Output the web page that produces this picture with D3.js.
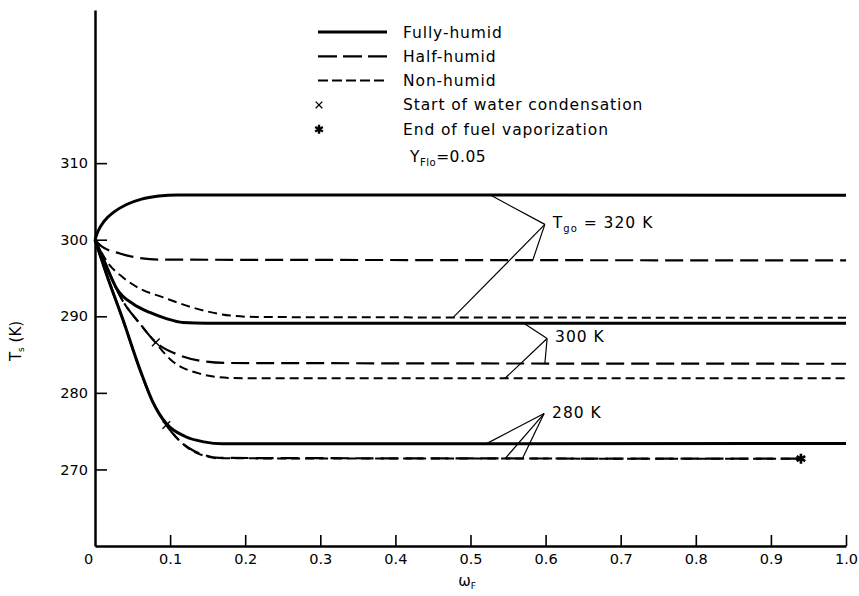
<!DOCTYPE html>
<html>
<head>
<meta charset="utf-8">
<script src="https://cdn.jsdelivr.net/npm/d3@7"></script>
<style>
	body { margin: 0; background: #fff; }
	svg text { font-family: "DejaVu Sans", sans-serif; fill: #000; }
</style>
</head>
<body>
<svg id="chart" width="859" height="596"></svg>
<script>
// axis ticks
var xTicks = [0, 0.1, 0.2, 0.3, 0.4, 0.5, 0.6, 0.7, 0.8, 0.9, 1.0];
var yTicks = [270, 280, 290, 300, 310];

// curves, [omega_F, T_s (K)]
var fullyHumid320 = [[0, 300], [0.004, 301.1], [0.012, 302.4], [0.025, 303.6], [0.042, 304.6], [0.062, 305.3], [0.085, 305.7], [0.11, 305.85], [1, 305.8]];
var halfHumid320 = [[0, 300], [0.008, 299.2], [0.033, 298.2], [0.06, 297.6], [0.085, 297.4], [1, 297.3]];
var nonHumid320 = [[0, 300], [0.017, 297.0], [0.037, 295.1], [0.06, 293.6], [0.09, 292.5], [0.135, 291.0], [0.18, 290.1], [0.22, 289.9], [1, 289.8]];

var fullyHumid300 = [[0, 300], [0.012, 297.3], [0.029, 293.6], [0.051, 291.6], [0.073, 290.5], [0.095, 289.7], [0.117, 289.2], [0.15, 289.1], [1, 289.1]];
var halfHumid300 = [[0, 300], [0.015, 296.5], [0.037, 292.0], [0.06, 289.0], [0.081, 286.6], [0.11, 285.0], [0.14, 284.2], [0.18, 283.9], [1, 283.8]];
var nonHumid300 = [[0, 300], [0.015, 296.5], [0.037, 292.0], [0.06, 289.0], [0.081, 286.5], [0.1, 284.4], [0.14, 282.5], [0.18, 281.95], [0.22, 281.9], [1, 281.9]];

var fullyHumid280 = [[0, 300], [0.016, 295.3], [0.037, 289.6], [0.06, 283.0], [0.077, 278.8], [0.095, 276.0], [0.12, 274.3], [0.145, 273.6], [0.17, 273.35], [1, 273.4]];
var halfHumid280 = [[0, 300], [0.016, 295.3], [0.037, 289.6], [0.06, 283.0], [0.077, 278.8], [0.095, 275.8], [0.11, 274.0], [0.125, 272.8], [0.145, 271.9], [0.165, 271.5], [0.94, 271.4]];
var nonHumid280 = [[0, 300], [0.016, 295.3], [0.037, 289.6], [0.06, 283.0], [0.077, 278.8], [0.095, 275.8], [0.11, 274.0], [0.125, 272.7], [0.145, 271.8], [0.165, 271.45], [0.94, 271.4]];

var condensationPoints = [[0.081, 286.6], [0.095, 275.8]];
var vaporizationEnd = [[0.94, 271.4]];

// leader labels: anchor point and the curves it points to
var gasLabels = [
	{ anchor: [0.599, 302.0], targets: [[0.527, 305.8], [0.583, 297.35], [0.477, 289.85]] },
	{ anchor: [0.602, 287.1], targets: [[0.571, 289.1], [0.599, 283.8], [0.546, 281.9]] },
	{ anchor: [0.598, 277.3], targets: [[0.522, 273.4], [0.546, 271.4], [0.569, 271.4]] }
];
var gasLabelText = ['320 K', '300 K', '280 K'];

var legendNames = ['Fully-humid', 'Half-humid', 'Non-humid', 'Start of water condensation', 'End of fuel vaporization'];

var styles = {
	fully: { width: 3, dash: null },
	half: { width: 2.2, dash: '18,7' },
	non: { width: 2, dash: '9,5' }
};

var svg = d3.select('#chart');

var x = d3.scaleLinear().domain([0, 1]).range([95, 846]),
	y = d3.scaleLinear().domain([260, 330]).range([546, 10]);

// axes
var xAxis = svg.append('g')
	.attr('transform', 'translate(0,' + y(260) + ')')
	.call(d3.axisBottom(x).tickValues(xTicks).tickSize(-11).tickSizeOuter(0).tickPadding(8)
		.tickFormat(function(d) { return d === 0 ? '0' : d3.format('.1f')(d); }));

var yAxis = svg.append('g')
	.attr('transform', 'translate(' + x(0) + ',0)')
	.call(d3.axisLeft(y).tickValues(yTicks).tickSize(-12).tickSizeOuter(0).tickPadding(7)
		.tickFormat(d3.format('d')));

[xAxis, yAxis].forEach(function(g) {
	g.attr('font-size', 14.5).attr('font-family', '"DejaVu Sans", sans-serif');
	g.select('.domain').attr('stroke', '#000').attr('stroke-width', 2.5);
	g.selectAll('.tick line').attr('stroke', '#000').attr('stroke-width', 1.6);
});
xAxis.selectAll('.tick').filter(function(d) { return d === 0; }).select('line').remove();
xAxis.selectAll('.tick').filter(function(d) { return d === 0; }).select('text').attr('x', -7);

// curves
var line = d3.line()
	.x(function(d) { return x(d[0]); })
	.y(function(d) { return y(d[1]); })
	.curve(d3.curveMonotoneX);

var curves = [
	{ data: fullyHumid320, style: 'fully' },
	{ data: halfHumid320, style: 'half' },
	{ data: nonHumid320, style: 'non' },
	{ data: fullyHumid300, style: 'fully' },
	{ data: halfHumid300, style: 'half' },
	{ data: nonHumid300, style: 'non' },
	{ data: fullyHumid280, style: 'fully' },
	{ data: halfHumid280, style: 'half' },
	{ data: nonHumid280, style: 'non' }
];

svg.append('g').selectAll('path')
	.data(curves)
	.enter()
	.append('path')
	.attr('d', function(d) { return line(d.data); })
	.attr('fill', 'none')
	.attr('stroke', '#000')
	.attr('stroke-width', function(d) { return styles[d.style].width; })
	.attr('stroke-dasharray', function(d) { return styles[d.style].dash; });

// markers
var cross = d3.symbol().type(d3.symbolTimes).size(40),
	star = d3.symbol().type(d3.symbolAsterisk).size(70);

svg.append('g').selectAll('path')
	.data(condensationPoints)
	.enter()
	.append('path')
	.attr('d', cross)
	.attr('transform', function(d) { return 'translate(' + x(d[0]) + ',' + y(d[1]) + ')'; })
	.attr('fill', 'none').attr('stroke', '#000').attr('stroke-width', 1.4);

svg.append('g').selectAll('path')
	.data(vaporizationEnd)
	.enter()
	.append('path')
	.attr('d', star)
	.attr('transform', function(d) { return 'translate(' + x(d[0]) + ',' + y(d[1]) + ')'; })
	.attr('fill', 'none').attr('stroke', '#000').attr('stroke-width', 2.6);

// leader lines and labels
gasLabels.forEach(function(lab, i) {
	var g = svg.append('g');
	lab.targets.forEach(function(t) {
		g.append('line')
			.attr('x1', x(lab.anchor[0])).attr('y1', y(lab.anchor[1]))
			.attr('x2', x(t[0])).attr('y2', y(t[1]))
			.attr('stroke', '#000').attr('stroke-width', 1.2);
	});
	var text = g.append('text')
		.attr('x', x(lab.anchor[0]) + 8)
		.attr('y', y(lab.anchor[1]) + 4)
		.attr('font-size', 15.5)
		.attr('letter-spacing', 1);
	if (i === 0) {
		text.append('tspan').text('T');
		text.append('tspan').attr('font-size', 10).attr('dy', 4).text('go');
		text.append('tspan').attr('dy', -4).text(' = ' + gasLabelText[i]);
	} else {
		text.text(gasLabelText[i]);
	}
});

// legend
var legend = svg.append('g').attr('transform', 'translate(318,32)'),
	legendStyles = ['fully', 'half', 'non'];

legendNames.forEach(function(name, i) {
	var row = legend.append('g').attr('transform', 'translate(0,' + (i * 24.3) + ')');
	if (i < 3) {
		row.append('line')
			.attr('x1', 0).attr('x2', 69).attr('y1', 0).attr('y2', 0)
			.attr('stroke', '#000')
			.attr('stroke-width', styles[legendStyles[i]].width)
			.attr('stroke-dasharray', i === 1 ? '19,6' : (i === 2 ? '10,4' : null));
	} else {
		row.append('path')
			.attr('d', i === 3 ? d3.symbol().type(d3.symbolTimes).size(30) : d3.symbol().type(d3.symbolAsterisk).size(55))
			.attr('transform', 'translate(1,0)')
			.attr('fill', 'none').attr('stroke', '#000')
			.attr('stroke-width', i === 3 ? 1.3 : 2.4);
	}
	row.append('text')
		.attr('x', 85).attr('y', 5.5)
		.attr('font-size', 15.5)
		.attr('letter-spacing', 0.9)
		.text(name);
});

var yflo = svg.append('text')
	.attr('x', 410).attr('y', 162)
	.attr('font-size', 15.5).attr('letter-spacing', 0.5);
yflo.append('tspan').text('Y');
yflo.append('tspan').attr('font-size', 10).attr('dy', 4).text('Flo');
yflo.append('tspan').attr('dy', -4).text('=0.05');

// axis titles
var yTitle = svg.append('text')
	.attr('transform', 'translate(21,341) rotate(-90)')
	.attr('text-anchor', 'middle')
	.attr('font-size', 15);
yTitle.append('tspan').text('T');
yTitle.append('tspan').attr('font-size', 9).attr('dy', 3).text('s');
yTitle.append('tspan').attr('dy', -3).text(' (K)');

var xTitle = svg.append('text')
	.attr('x', 467).attr('y', 586)
	.attr('text-anchor', 'middle')
	.attr('font-size', 15);
xTitle.append('tspan').text('ω');
xTitle.append('tspan').attr('font-size', 9).attr('dy', 3).text('F');
</script>
</body>
</html>
